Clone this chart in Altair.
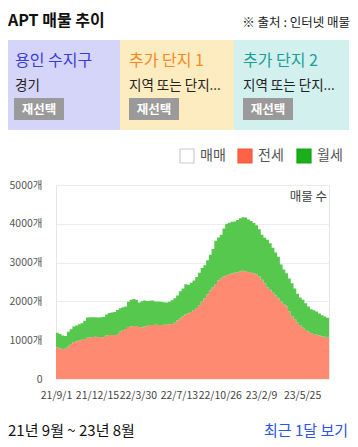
import altair as alt
import pandas as pd

FONT = "Noto Sans CJK KR"

# ---- data (weekly listings count) ----
start_date = "2021-09-01"
jeonse = [818, 790, 770, 780, 840, 900, 955, 975, 995, 1010,
          1030, 1060, 1070, 1085, 1090, 1085, 1080, 1075, 1120, 1135,
          1135, 1135, 1140, 1220, 1260, 1290, 1340, 1355, 1365, 1367,
          1340, 1330, 1350, 1370, 1390, 1393, 1395, 1390, 1393, 1395,
          1400, 1410, 1420, 1450, 1510, 1560, 1620, 1660, 1690, 1730,
          1780, 1830, 1900, 2000, 2080, 2180, 2280, 2360, 2450, 2540,
          2597, 2640, 2680, 2700, 2720, 2740, 2745, 2770, 2790, 2780,
          2760, 2740, 2725, 2700, 2640, 2560, 2470, 2360, 2300, 2220,
          2150, 2080, 2000, 1930, 1866, 1740, 1620, 1540, 1450, 1370,
          1320, 1260, 1220, 1180, 1160, 1140, 1120, 1100, 1090, 1060, 1024]
wolse = [372, 370, 350, 330, 380, 380, 395, 405, 415, 430,
         470, 525, 522, 505, 502, 503, 512, 525, 540, 565,
         580, 595, 640, 605, 590, 576, 650, 685, 699, 673,
         630, 675, 670, 640, 625, 627, 605, 605, 597, 585,
         570, 580, 610, 630, 640, 700, 710, 780, 740, 750,
         760, 800, 840, 860, 850, 880, 920, 990, 1110, 1110,
         1118, 1240, 1320, 1330, 1330, 1320, 1355, 1370, 1380, 1380,
         1350, 1330, 1295, 1260, 1220, 1160, 1170, 1230, 1200, 1160,
         1110, 1070, 950, 890, 861, 850, 850, 790, 750, 730,
         720, 690, 650, 620, 610, 600, 570, 545, 520, 520, 476]
series_names = ["전세", "월세"]
series_colors = ["#ff8a72", "#55c84d"]
tick_dates = [(2021, 9, 1), (2021, 12, 15), (2022, 3, 30), (2022, 7, 13),
              (2022, 10, 26), (2023, 2, 9), (2023, 5, 25)]
y_ticks = [0, 1000, 2000, 3000, 4000, 5000]

dates = pd.date_range(start_date, periods=len(jeonse), freq="7D")
rows = []
for d, j, w in zip(dates, jeonse, wolse):
    rows.append({"date": d.strftime("%Y-%m-%dT00:00:00"), "series": "전세", "ord": 0, "value": j})
    rows.append({"date": d.strftime("%Y-%m-%dT00:00:00"), "series": "월세", "ord": 1, "value": w})
df = pd.DataFrame(rows)

# ---- layout (page coords -> view coords) ----
OX, OY = 56, 185
W, H = 273, 194
SVG_W, SVG_H = 342, 431
one = alt.Data(values=[{"a": 1}])


def txt(s, px, py, size, color, weight="normal", align="left", baseline="alphabetic"):
    return alt.Chart(one).mark_text(
        text=s, fontSize=size, color=color, fontWeight=weight, align=align,
        baseline=baseline, font=FONT
    ).encode(x=alt.value(px - OX), y=alt.value(py - OY))


def box(x1, x2, y1, y2, fill, stroke=None, sw=0):
    kw = dict(fill=fill, strokeWidth=sw)
    if stroke:
        kw["stroke"] = stroke
    return alt.Chart(one).mark_rect(**kw).encode(
        x=alt.value(x1 - OX), x2=alt.value(x2 - OX),
        y=alt.value(y1 - OY), y2=alt.value(y2 - OY))


area = alt.Chart(df).mark_area(interpolate="step-after").encode(
    x=alt.X("date:T",
            scale=alt.Scale(domain=[alt.DateTime(year=2021, month=9, date=1),
                                    alt.DateTime(year=2023, month=8, date=2)], nice=False),
            axis=alt.Axis(values=[alt.DateTime(year=a, month=b, date=c) for a, b, c in tick_dates],
                          format="%y/%-m/%-d", grid=False, domain=False, ticks=False,
                          labelPadding=11, labelFontSize=10.5, labelColor="#444",
                          labelFont=FONT, labelFlush=False, labelOverlap=False,
                          labelBound=False, title=None)),
    y=alt.Y("value:Q", stack="zero", scale=alt.Scale(domain=[0, 5000], nice=False),
            axis=alt.Axis(values=y_ticks, labelExpr="datum.value == 0 ? '0' : datum.value + '개'",
                          gridColor="#ececec", domain=False, ticks=False, labelPadding=14,
                          labelFontSize=10.5, labelColor="#555", labelFont=FONT, title=None)),
    color=alt.Color("series:N", scale=alt.Scale(domain=series_names, range=series_colors),
                    legend=None),
    order=alt.Order("ord:Q"),
)

layers = [
    # header
    txt("APT 매물 추이", 8, 26, 16, "#111", weight="bold"),
    txt("※ 출처 : 인터넷 매물", 350, 27, 12.5, "#222", align="right"),
    # panels
    box(8, 120, 40, 130, "#d5d5f9"),
    box(120, 234, 40, 130, "#fdecc0"),
    box(234, 349, 40, 130, "#d2f0ee"),
    txt("용인 수지구", 15, 66, 16, "#3b3bdc"),
    txt("추가 단지 1", 129, 66, 16, "#f5891f"),
    txt("추가 단지 2", 243, 66, 16, "#1a9e98"),
    txt("경기", 15, 90, 13.5, "#222"),
    txt("지역 또는 단지...", 129, 90, 13.5, "#222"),
    txt("지역 또는 단지...", 243, 90, 13.5, "#222"),
    box(14, 64, 98, 120, "#9a9a9a"),
    box(129, 179, 98, 120, "#9a9a9a"),
    box(243, 293, 98, 120, "#9a9a9a"),
    txt("재선택", 39, 113.5, 12.5, "white", weight="bold", align="center"),
    txt("재선택", 154, 113.5, 12.5, "white", weight="bold", align="center"),
    txt("재선택", 268, 113.5, 12.5, "white", weight="bold", align="center"),
    # legend
    box(180, 194, 149, 163, "white", "#c8ccd4", 1.2),
    box(238, 252, 149, 163, "#ff6347", "#f05a3c", 1.2),
    box(297, 311, 149, 163, "#1bb01b", "#14a014", 1.2),
    txt("매매", 200, 156, 14, "#555", baseline="middle"),
    txt("전세", 258, 156, 14, "#555", baseline="middle"),
    txt("월세", 317, 156, 14, "#555", baseline="middle"),
    # chart
    area,
    txt("매물 수", 327, 201, 12.5, "#444", align="right"),
    # footer
    txt("21년 9월 ~ 23년 8월", 8, 436, 15, "#111"),
    txt("최근 1달 보기", 348, 436, 15, "#2a55e5", align="right"),
]

chart = alt.layer(*layers).properties(
    width=W, height=H,
    autosize=alt.AutoSizeParams(type="none"),
    padding={"left": OX - 8, "top": OY - 8, "right": SVG_W - (OX - 8) - W,
             "bottom": SVG_H - (OY - 8) - H},
).configure_view(stroke="#e6e6e6", strokeWidth=1)

chart.save("out.html", embed_options={"renderer": "svg", "actions": False})
